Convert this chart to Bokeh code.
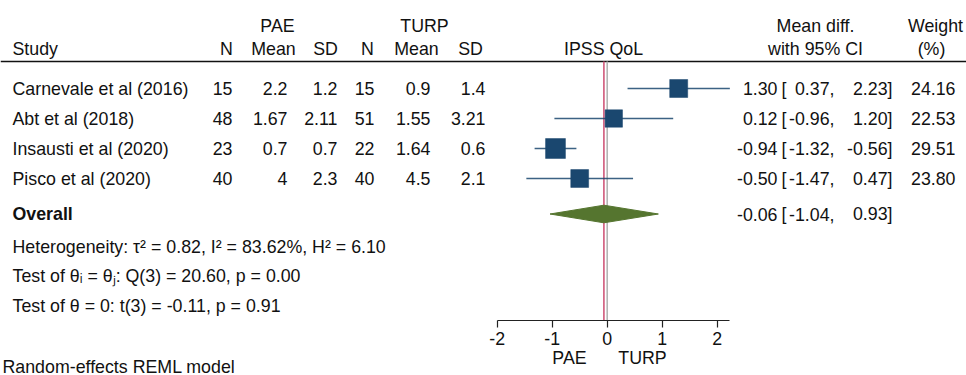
from bokeh.plotting import figure
from bokeh.models import Range1d, FixedTicker
from bokeh.core.properties import value
from bokeh.embed import file_html
from bokeh.resources import INLINE

# ---------------- data ----------------
studies = ["Carnevale et al (2016)", "Abt et al (2018)", "Insausti et al (2020)", "Pisco et al (2020)"]
n_pae = [15, 48, 23, 40]
mean_pae = [2.2, 1.67, 0.7, 4]
sd_pae = [1.2, 2.11, 0.7, 2.3]
n_turp = [15, 51, 22, 40]
mean_turp = [0.9, 1.55, 1.64, 4.5]
sd_turp = [1.4, 3.21, 0.6, 2.1]
md = [1.30, 0.12, -0.94, -0.50]
ci_lo = [0.37, -0.96, -1.32, -1.47]
ci_hi = [2.23, 1.20, -0.56, 0.47]
weight = [24.16, 22.53, 29.51, 23.80]
overall_md = -0.06
overall_lo = -1.04
overall_hi = 0.93
x_ticks = [-2, -1, 0, 1, 2]
x_tick_labels = ["-2", "-1", "0", "1", "2"]
favours = ["PAE", "TURP"]
het_text = "Heterogeneity: \u03c4\u00b2 = 0.82, I\u00b2 = 83.62%, H\u00b2 = 6.10"
test1_text = "Test of \u03b8\u1d62 = \u03b8\u2c7c: Q(3) = 20.60, p = 0.00"
test2_text = "Test of \u03b8 = 0: t(3) = -0.11, p = 0.91"
footnote = "Random-effects REML model"

# ---------------- layout constants (pixels) ----------------
W, H = 966, 375
ZERO_PX = 606.7
UNIT_PX = 55.0
AXIS_Y = 320
AXIS_END = 2.23
ROW_Y = [88, 118, 148, 178]
OVERALL_Y = 213.5
HDR1_Y, HDR2_Y, RULE_Y = 25, 48, 61
FONT = value("Liberation Sans")
FS = value("17.8px")
INK = "#111111"
BLUE = "#1a476f"
GREEN = "#55752f"

p = figure(width=W, height=H, output_backend="svg", toolbar_location=None,
           x_range=Range1d(-ZERO_PX / UNIT_PX, (W - ZERO_PX) / UNIT_PX),
           y_range=Range1d(H, 0), y_axis_location=None,
           min_border=0)
p.extra_x_ranges = {"px": Range1d(0, W)}
p.grid.visible = False
p.outline_line_color = None
p.background_fill_color = "white"
p.border_fill_color = "white"

ax = p.xaxis[0]
ax.fixed_location = AXIS_Y
ax.ticker = FixedTicker(ticks=x_ticks)
ax.major_label_overrides = {t: s for t, s in zip(x_ticks, x_tick_labels)}
ax.bounds = (x_ticks[0], AXIS_END)
ax.major_tick_in = 0
ax.major_tick_out = 7
ax.minor_tick_in = 0
ax.minor_tick_out = 0
ax.axis_line_color = "#222222"
ax.axis_line_width = 1.2
ax.major_tick_line_color = "#222222"
ax.major_tick_line_width = 1.2
ax.major_label_standoff = 4
ax.major_label_text_font = "Liberation Sans"
ax.major_label_text_font_size = "17.8px"
ax.major_label_text_color = INK


def txt(xs, ys, texts, align, style="normal", baseline="middle", rng="px"):
    p.text(x=xs, y=ys, text=texts, x_range_name=rng, text_align=align,
           text_baseline=baseline, text_font=FONT, text_font_size=FS,
           text_color=INK, text_font_style=style)


fmt = lambda v: f"{v:g}"

# header
txt([12], [HDR2_Y], ["Study"], "left")
txt([277, 424], [HDR1_Y, HDR1_Y], ["PAE", "TURP"], "center")
txt([226, 273, 325, 367, 416, 470], [HDR2_Y] * 6, ["N", "Mean", "SD", "N", "Mean", "SD"], "center")
txt([603], [HDR2_Y], ["IPSS QoL"], "center")
txt([815, 815], [HDR1_Y, HDR2_Y], ["Mean diff.", "with 95% CI"], "center")
txt([935, 931], [HDR1_Y, HDR2_Y], ["Weight", "(%)"], "center")
p.segment(x0=[0], x1=[W], y0=[RULE_Y], y1=[RULE_Y], x_range_name="px",
          line_color=INK, line_width=1.3)

# study rows
txt([12] * 4, ROW_Y, studies, "left")
txt([232] * 4, ROW_Y, [str(v) for v in n_pae], "right")
txt([287] * 4, ROW_Y, [fmt(v) for v in mean_pae], "right")
txt([337] * 4, ROW_Y, [fmt(v) for v in sd_pae], "right")
txt([374] * 4, ROW_Y, [str(v) for v in n_turp], "right")
txt([430] * 4, ROW_Y, [fmt(v) for v in mean_turp], "right")
txt([485] * 4, ROW_Y, [fmt(v) for v in sd_turp], "right")

all_y = ROW_Y + [OVERALL_Y]
all_md = md + [overall_md]
all_lo = ci_lo + [overall_lo]
all_hi = ci_hi + [overall_hi]
txt([777] * 5, all_y, [f"{v:.2f}" for v in all_md], "right")
txt([781] * 5, all_y, ["["] * 5, "left")
txt([834] * 5, all_y, [f"{v:.2f}," for v in all_lo], "right")
txt([892] * 5, all_y, [f"{v:.2f}]" for v in all_hi], "right")
txt([955] * 4, ROW_Y, [f"{v:.2f}" for v in weight], "right")

# overall + stats text
txt([12], [OVERALL_Y], ["Overall"], "left", "bold")
txt([12, 12, 12], [246, 275, 305], [het_text, test1_text, test2_text], "left")

# favours labels and footnote
txt([569, 642], [357, 357], favours, "center")
txt([2], [366], [footnote], "left", baseline="alphabetic")

# reference lines
p.segment(x0=[0], x1=[0], y0=[RULE_Y], y1=[AXIS_Y], line_color="#b4b4b4", line_width=1.6)
p.segment(x0=[overall_md], x1=[overall_md], y0=[RULE_Y], y1=[AXIS_Y], line_color="#d0587a", line_width=1.6)

# CIs and squares
p.segment(x0=ci_lo, x1=ci_hi, y0=ROW_Y, y1=ROW_Y, line_color=BLUE, line_width=1.5, line_alpha=0.85)
sq = [18.0 / 24.16 ** 0.5 * w ** 0.5 for w in weight]
p.scatter(x=md, y=ROW_Y, size=sq, marker="square", fill_color=BLUE, line_color=BLUE, line_width=0.5)

# overall diamond
HD = 8.8
p.patch(x=[overall_lo, overall_md, overall_hi, overall_md],
        y=[OVERALL_Y, OVERALL_Y - HD, OVERALL_Y, OVERALL_Y + HD],
        fill_color=GREEN, line_color=GREEN)

open("out.html", "w").write(file_html(p, INLINE))
